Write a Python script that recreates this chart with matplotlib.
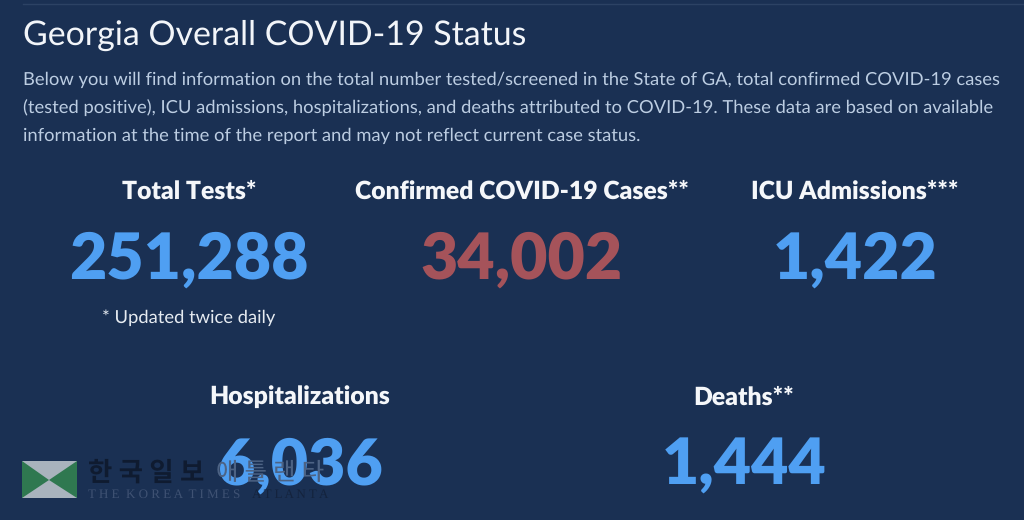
import matplotlib
matplotlib.use('Agg')
import matplotlib.pyplot as plt
from matplotlib.patches import Rectangle, Polygon

plt.rcParams['font.family'] = ['Lato', 'Noto Sans CJK KR', 'DejaVu Sans']
plt.rcParams['text.hinting'] = 'no_hinting'

title = 'Georgia Overall COVID-19 Status'
intro = ['Below you will find information on the total number tested/screened in the State of GA, total confirmed COVID-19 cases',
         '(tested positive), ICU admissions, hospitalizations, and deaths attributed to COVID-19. These data are based on available',
         'information at the time of the report and may not reflect current case status.']
labels = ['Total Tests*', 'Confirmed COVID-19 Cases**', 'ICU Admissions***', 'Hospitalizations', 'Deaths**']
values = ['251,288', '34,002', '1,422', '6,036', '1,444']
colors = ['#4f9ff2', '#a5535a', '#4f9ff2', '#4f9ff2', '#4f9ff2']
centers_x = [189, 522, 855, 300, 744]
label_y = [191, 191, 191, 397, 397]
value_y = [260, 260, 260, 466, 466]

fig = plt.figure(figsize=(10.24, 5.2), dpi=100, facecolor='#1a3053')
ax = fig.add_axes([0, 0, 1, 1])
ax.set_xlim(0, 1024)
ax.set_ylim(520, 0)
ax.axis('off')

ax.plot([23, 1024], [4, 4], color='#2c4264', lw=1)
ax.text(23, 35, title, color='#f2f5f9', fontsize=24.4, va='center', ha='left')
for i, line in enumerate(intro):
    ax.text(23, 80 + i*28, line, color='#bccde2', fontsize=13.2, va='center', ha='left')

# watermark sits between the big numbers and the background
ax.add_patch(Rectangle((22, 461), 55, 37, color='#a9b3bd', lw=0, zorder=1))
ax.add_patch(Polygon([(22, 461), (49, 480), (22, 498)], color='#2f7850', lw=0, zorder=1))
ax.add_patch(Polygon([(77, 461), (49, 480), (77, 498)], color='#2f7850', lw=0, zorder=1))
ax.text(88, 473, '한 국 일 보', color='#0f1b30', fontsize=19, fontweight='bold', va='center', ha='left', zorder=1)
ax.text(216, 473, '애 틀 랜 타', color='#4d6384', fontsize=17.5, va='center', ha='left', zorder=4)
ax.text(88, 495, 'T H E  K O R E A  T I M E S', color='#3f5273', fontsize=9.4,
        family='Liberation Serif', va='center', ha='left', zorder=1)
ax.text(252, 495, 'A T L A N T A', color='#14233d', fontsize=9.4,
        family='Liberation Serif', va='center', ha='left', zorder=4)

for i in range(len(labels)):
    ax.text(centers_x[i], label_y[i], labels[i], color='#f5f7fa', fontsize=17.8, fontweight='heavy', va='center', ha='center', zorder=3)
    ax.text(centers_x[i], value_y[i], values[i], color=colors[i], fontsize=46.4, fontweight='heavy', va='center', ha='center', zorder=3)
ax.text(189, 318, '* Updated twice daily', color='#e6ebf1', fontsize=13.2, va='center', ha='center')

fig.savefig('out.png', dpi=100, facecolor=fig.get_facecolor())
